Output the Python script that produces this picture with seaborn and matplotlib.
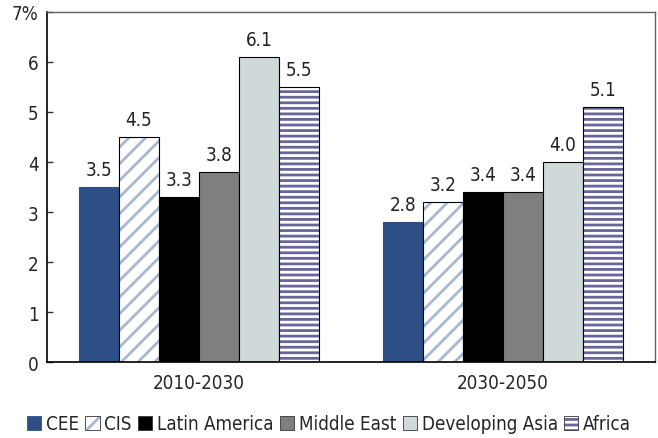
import matplotlib
matplotlib.use("Agg")
import matplotlib.pyplot as plt
import matplotlib.colors as mcolors
from matplotlib.patches import Patch
import pandas as pd
import seaborn as sns

# data
periods = ["2010-2030", "2030-2050"]
regions = ["CEE", "CIS", "Latin America", "Middle East", "Developing Asia", "Africa"]
growth_2010_2030 = [3.5, 4.5, 3.3, 3.8, 6.1, 5.5]
growth_2030_2050 = [2.8, 3.2, 3.4, 3.4, 4.0, 5.1]
y_ticks = [0, 1, 2, 3, 4, 5, 6, 7]
y_tick_labels = ["0", "1", "2", "3", "4", "5", "6", "7%"]

fills = {"CEE": "#2E4F86", "CIS": "white", "Latin America": "black",
         "Middle East": "#7F7F7F", "Developing Asia": "#D0D8DA", "Africa": "white"}
hatches = {"CIS": "//", "Africa": "---"}
hatch_colors = {"CIS": "#A8B8CE", "Africa": "#66669C"}

rows = []
for period, vals in zip(periods, [growth_2010_2030, growth_2030_2050]):
    for region, v in zip(regions, vals):
        rows.append({"period": period, "region": region, "growth": v})
df = pd.DataFrame(rows)

sns.set_theme(style="white")
plt.rcParams["font.family"] = ["DejaVu Sans"]
plt.rcParams["font.stretch"] = "condensed"
plt.rcParams["hatch.linewidth"] = 2.0

fig = plt.figure(figsize=(6.58, 4.39), dpi=100)
ax = fig.add_axes([0.0714, 0.1731, 0.9240, 0.7973])

sns.barplot(data=df, x="period", y="growth", hue="region", order=periods,
            hue_order=regions, palette=fills, saturation=1, width=0.79,
            edgecolor="black", linewidth=0.8, legend=False, ax=ax)

def style_patch(p, region):
    if region == "CEE":
        p.set_edgecolor(fills["CEE"])
    if region in hatches:
        p.set_hatch(hatches[region])
        p._hatch_color = mcolors.to_rgba(hatch_colors[region])

for region, cont in zip(regions, ax.containers):
    for p in cont:
        style_patch(p, region)
    ax.bar_label(cont, fmt="%.1f", padding=6, fontsize=13.5, color="#222222")

ax.set_ylim(0, 7)
ax.set_xlim(-0.5, 1.5)
ax.set_yticks(y_ticks)
ax.set_yticklabels(y_tick_labels)
ax.set_xlabel("")
ax.set_ylabel("")
ax.tick_params(axis="y", direction="in", length=4.5, width=1, color="#333333",
               labelsize=13.5, pad=6, left=True)
ax.tick_params(axis="x", length=0, labelsize=13.5, pad=8)
for side in ["left", "bottom"]:
    ax.spines[side].set_color("black")
    ax.spines[side].set_linewidth(1.2)
for side in ["top", "right"]:
    ax.spines[side].set_color("#606060")
    ax.spines[side].set_linewidth(1.0)

handles = []
for region in regions:
    h = Patch(facecolor=fills[region], edgecolor="#333333" if region != "CEE" else fills[region],
              linewidth=0.6, hatch=hatches.get(region), label=region)
    if region in hatch_colors:
        h._hatch_color = mcolors.to_rgba(hatch_colors[region])
    handles.append(h)
fig.legend(handles=handles, loc="center", bbox_to_anchor=(0.5, 0.032), ncol=6,
           frameon=False, fontsize=13.5, handlelength=0.75, handleheight=0.75,
           handletextpad=0.25, columnspacing=0.35, borderaxespad=0)

fig.savefig("out.png", dpi=100)
